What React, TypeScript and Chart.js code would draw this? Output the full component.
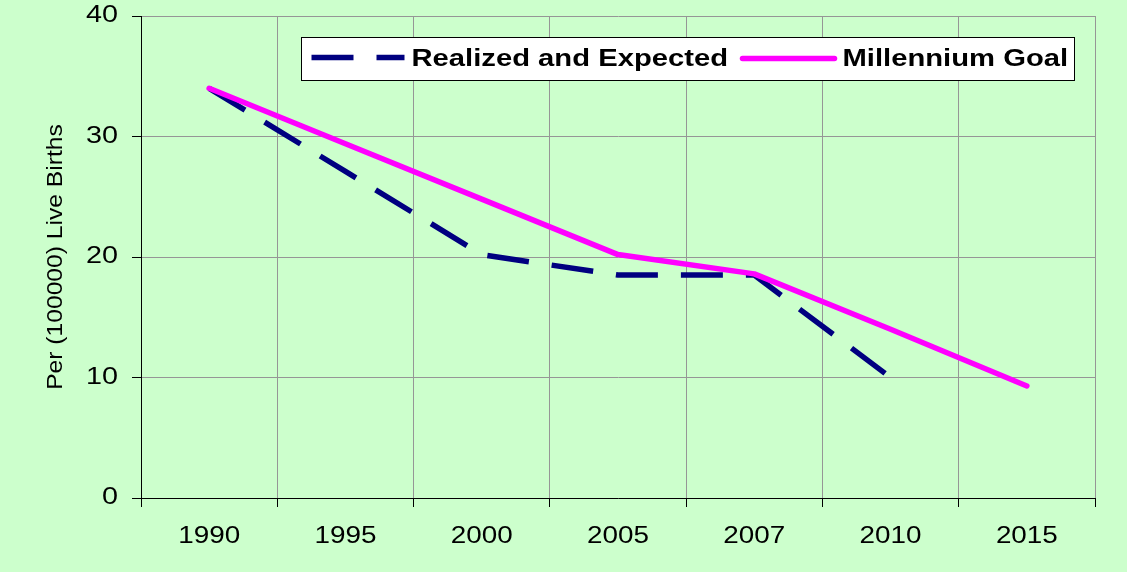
import React, { useEffect, useRef } from 'react';
import { Chart, registerables } from 'chart.js';

Chart.register(...registerables);

// ---- data ----
const years = ['1990', '1995', '2000', '2005', '2007', '2010', '2015'];
const realizedAndExpected: (number | null)[] = [34, 27.1, 20.2, 18.5, 18.5, 10, null];
const millenniumGoal: number[] = [34, 29.4, 24.8, 20.2, 18.6, 14.0, 9.3];
const yTickValues = [0, 10, 20, 30, 40];
const seriesNames = ['Realized and Expected', 'Millennium Goal'];
const yAxisTitle = 'Per (100000) Live Births';

// ---- style ----
const FONT_FAMILY = 'Arial, "Liberation Sans", sans-serif';
const BG = '#CCFFCC';
const NAVY = '#000080';
const MAGENTA = '#FF00FF';
const GRID = '#969696';
const X_TICK_SIZE = 24;
const Y_TICK_SIZE = 23;
const TITLE_SIZE = 22;
const LEGEND_SIZE = 23;

Chart.defaults.font.family = FONT_FAMILY;

// horizontal glyph stretch (the original renders its text wider than plain Arial)
function stretchFor(font: string): number {
  if (/bold|700/.test(font)) return 1.27;
  const m = /(\d+(?:\.\d+)?)px/.exec(font);
  const s = m ? parseFloat(m[1]) : 0;
  if (s === X_TICK_SIZE) return 1.16;
  if (s === Y_TICK_SIZE) return 1.25;
  if (s === TITLE_SIZE) return 1.12;
  return 1;
}

const boxLegend = {
  id: 'boxLegend',
  afterDraw(chart: any) {
    const { ctx, chartArea } = chart;
    const x0 = Math.round(chartArea.left + 160) + 0.5;
    const y0 = Math.round(chartArea.top + 21) + 0.5;
    const w = 773;
    const h = 43;
    ctx.save();
    ctx.fillStyle = '#FFFFFF';
    ctx.fillRect(x0, y0, w, h);
    ctx.strokeStyle = '#000000';
    ctx.lineWidth = 1;
    ctx.setLineDash([]);
    ctx.strokeRect(x0, y0, w, h);

    const ds = chart.data.datasets;
    const items = [
      { lineFrom: 10, lineTo: 103, textX: 110, lineY: 20 },
      { lineFrom: 441, lineTo: 533, textX: 541, lineY: 21 },
    ];
    ds.forEach((d: any, i: number) => {
      const it = items[i];
      ctx.save();
      ctx.beginPath();
      ctx.strokeStyle = d.borderColor;
      ctx.lineWidth = d.borderWidth;
      ctx.setLineDash(d.borderDash || []);
      ctx.lineCap = d.borderCapStyle || 'butt';
      ctx.moveTo(x0 + it.lineFrom, y0 + it.lineY);
      ctx.lineTo(x0 + it.lineTo, y0 + it.lineY);
      ctx.stroke();
      ctx.restore();

      ctx.fillStyle = '#000000';
      ctx.font = `bold ${LEGEND_SIZE}px ${FONT_FAMILY}`;
      ctx.textAlign = 'left';
      ctx.textBaseline = 'middle';
      ctx.fillText(d.label, x0 + it.textX, y0 + 22);
    });
    ctx.restore();
  },
};

export default function App() {
  const ref = useRef<HTMLCanvasElement>(null);

  useEffect(() => {
    document.body.style.margin = '0';
    document.body.style.background = BG;
    const canvas = ref.current!;
    const ctx = canvas.getContext('2d')!;
    const origFill = CanvasRenderingContext2D.prototype.fillText;
    (ctx as any).fillText = function (text: string, x: number, y: number, maxWidth?: number) {
      const sx = stretchFor(this.font);
      if (sx === 1) {
        if (maxWidth === undefined) origFill.call(this, text, x, y);
        else origFill.call(this, text, x, y, maxWidth);
        return;
      }
      this.save();
      this.translate(x, y);
      this.scale(sx, 1);
      if (maxWidth === undefined) origFill.call(this, text, 0, 0);
      else origFill.call(this, text, 0, 0, maxWidth / sx);
      this.restore();
    };

    const chart = new Chart(ctx, {
      type: 'line',
      data: {
        labels: years,
        datasets: [
          {
            label: seriesNames[0],
            data: realizedAndExpected,
            borderColor: NAVY,
            backgroundColor: NAVY,
            borderWidth: 5.5,
            borderDash: [42, 23],
            borderCapStyle: 'butt',
            borderJoinStyle: 'miter',
            pointRadius: 0,
            spanGaps: false,
            order: 1,
          },
          {
            label: seriesNames[1],
            data: millenniumGoal,
            borderColor: MAGENTA,
            backgroundColor: MAGENTA,
            borderWidth: 5.5,
            borderCapStyle: 'round',
            borderJoinStyle: 'round',
            pointRadius: 0,
            order: 0,
          },
        ],
      },
      options: {
        animation: false,
        responsive: false,
        devicePixelRatio: 1,
        layout: { padding: { top: 16, right: 32, bottom: 0, left: 0 } },
        plugins: {
          legend: { display: false },
          tooltip: { enabled: false },
        },
        elements: { line: { tension: 0 }, point: { radius: 0, hoverRadius: 0 } },
        scales: {
          x: {
            offset: true,
            grid: {
              offset: true,
              color: GRID,
              lineWidth: 1,
              tickColor: '#000000',
              tickLength: 9,
              tickWidth: 1,
            },
            border: { color: '#000000', width: 1 },
            ticks: {
              color: '#000000',
              font: { size: X_TICK_SIZE },
              padding: 15,
              autoSkip: false,
              maxRotation: 0,
            },
            afterFit: (s: any) => {
              s.height = 74;
              s.paddingLeft = 0;
              s.paddingRight = 0;
            },
          },
          y: {
            min: 0,
            max: 40,
            afterBuildTicks: (s: any) => {
              s.ticks = yTickValues.map((v) => ({ value: v }));
            },
            grid: {
              color: GRID,
              lineWidth: 1,
              tickColor: '#000000',
              tickLength: 9,
              tickWidth: 1,
            },
            border: { color: '#000000', width: 1 },
            ticks: {
              color: '#000000',
              font: { size: Y_TICK_SIZE },
              padding: 14,
            },
            title: {
              display: true,
              text: yAxisTitle,
              color: '#000000',
              font: { size: TITLE_SIZE },
              padding: { top: 43, bottom: 0 },
            },
            afterFit: (s: any) => {
              s.width = 141;
              s.paddingTop = 0;
              s.paddingBottom = 0;
            },
          },
        },
      },
      plugins: [boxLegend],
    } as any);

    return () => {
      chart.destroy();
      delete (ctx as any).fillText;
    };
  }, []);

  return (
    <div style={{ width: 1127, height: 572, background: BG }}>
      <canvas ref={ref} width={1127} height={572} style={{ display: 'block' }} />
    </div>
  );
}
